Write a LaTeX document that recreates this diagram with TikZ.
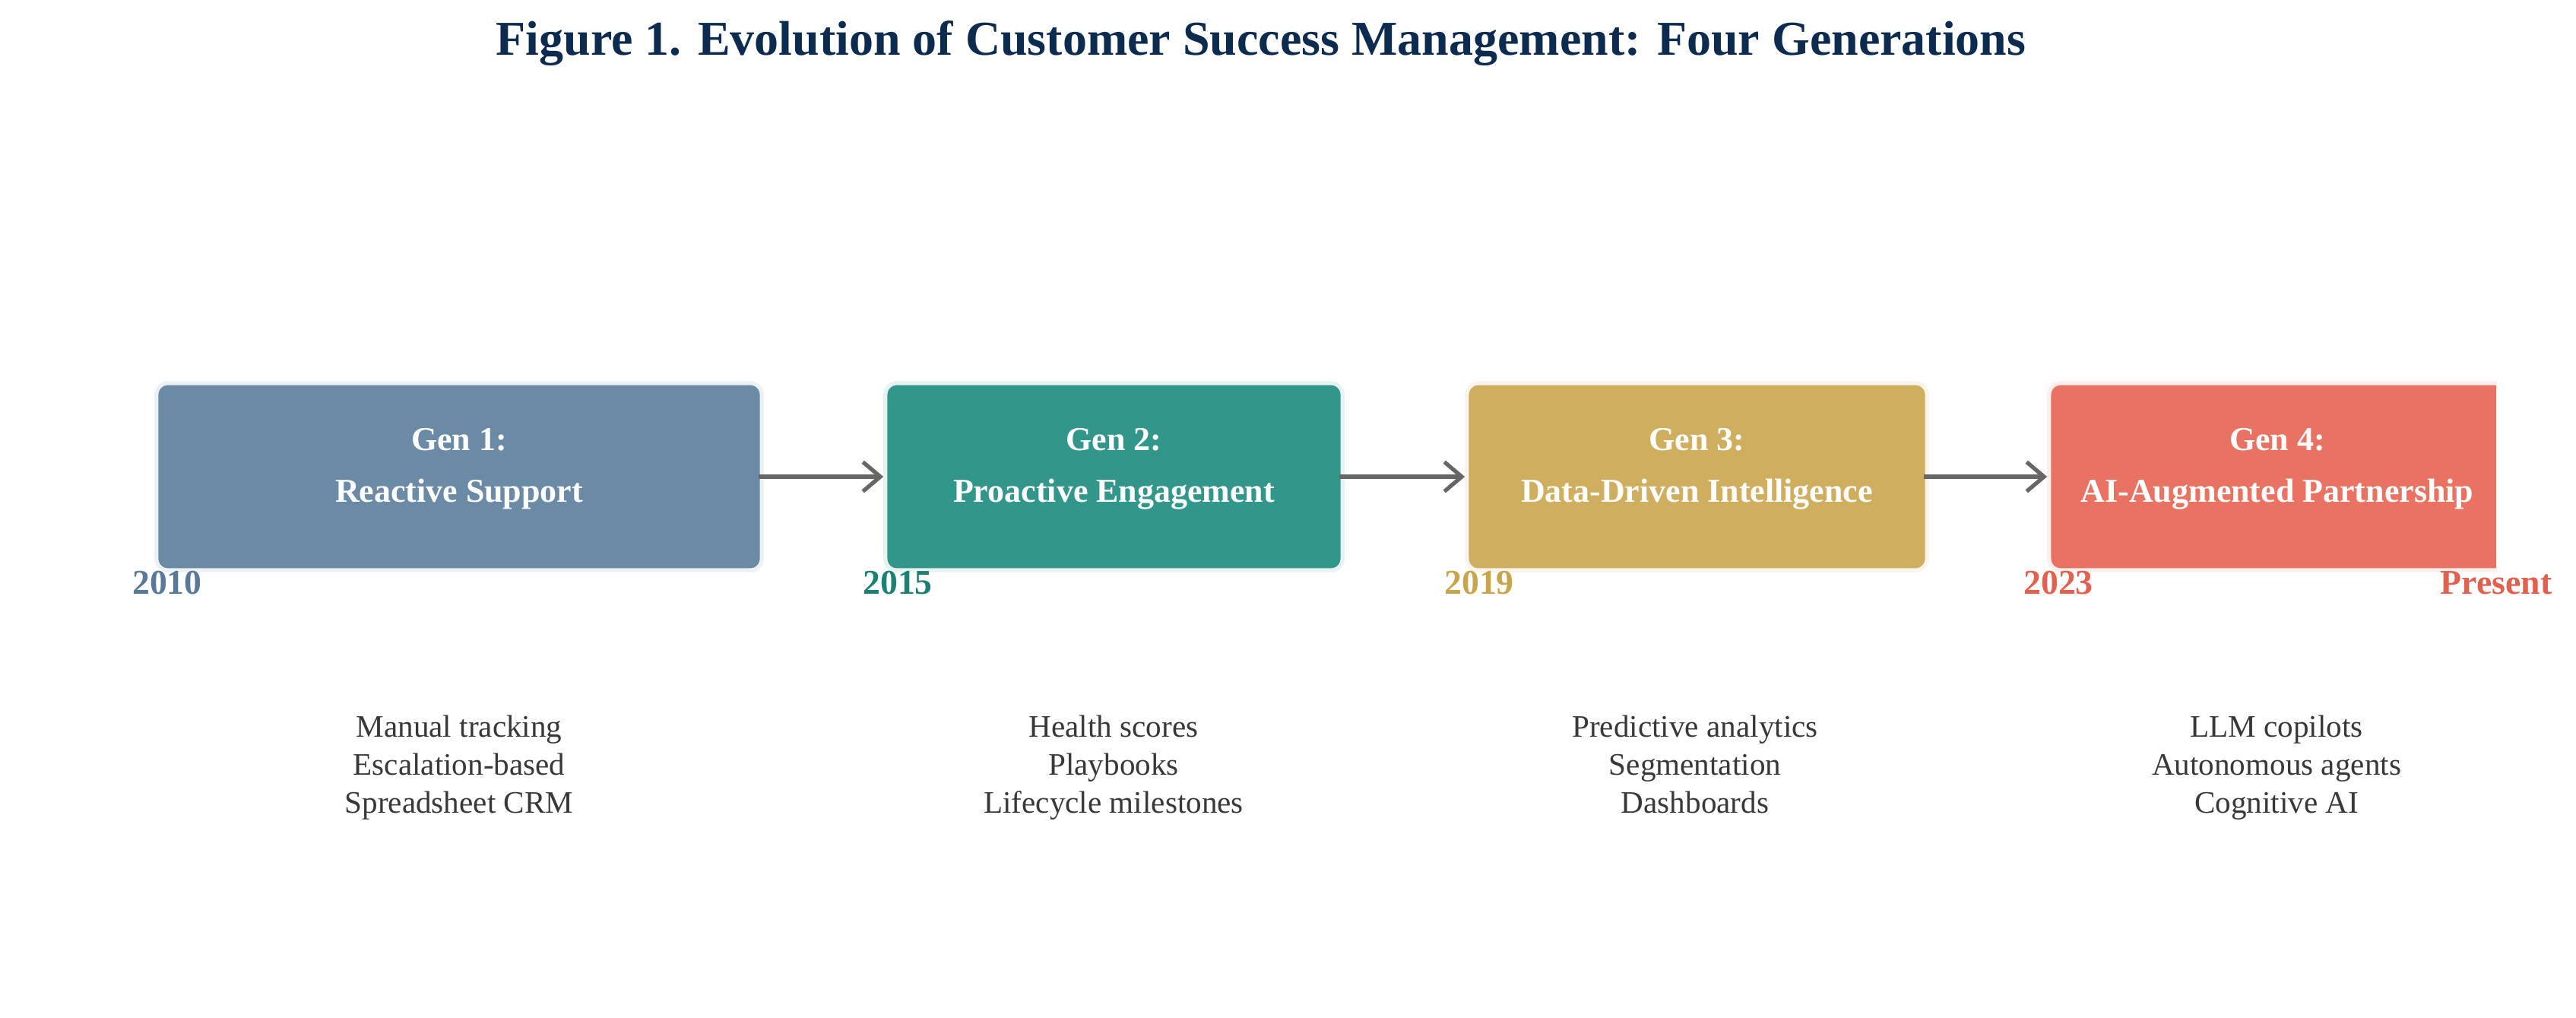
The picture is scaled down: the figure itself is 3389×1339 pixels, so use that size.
\documentclass[tikz,border=0pt]{standalone}
\usepackage{fontspec}
\setmainfont{Liberation Serif}
\usetikzlibrary{arrows.meta, positioning}
\definecolor{navy}{HTML}{0D2B4E}
\definecolor{slate}{HTML}{6B8AA6}
\definecolor{teal}{HTML}{32978A}
\definecolor{gold}{HTML}{CFAF5F}
\definecolor{coral}{HTML}{E87362}
\definecolor{slateyr}{HTML}{5A7898}
\definecolor{tealyr}{HTML}{1E8073}
\definecolor{goldyr}{HTML}{C8A54A}
\definecolor{coralyr}{HTML}{E2604E}
\definecolor{txtgray}{HTML}{383838}
\definecolor{arrgray}{HTML}{666666}
\tikzset{
  genbox/.style={rectangle, rounded corners=0.15cm, minimum height=2.46cm,
    line width=1.5pt, inner sep=0pt},
  gentext/.style={anchor=base, text=white, font=\fontsize{12.5}{15}\selectfont\bfseries},
  yearlbl/.style={anchor=base, font=\fontsize{13}{15}\selectfont\bfseries},
  bullets/.style={align=center, text depth=0pt, text=txtgray,
    font=\fontsize{11.7}{14.2}\selectfont},
  flow/.style={draw=arrgray, line width=1.5pt, -{Straight Barb[length=6.5pt,width=11pt]}}
}

\begin{document}
\begin{tikzpicture}[x=0.01cm, y=-0.01cm]
\useasboundingbox (0,0) rectangle (3389,1339);
\node[anchor=base, text=navy, font=\fontsize{18.2}{22}\selectfont\bfseries] (title) at (1659,72)
  {Figure 1. Evolution of Customer Success Management: Four Generations};
% the four generations
\node[genbox, minimum width=7.96cm, fill=slate, draw=slate!12!white] (g1) at (604,627) {};
\node[genbox, minimum width=6.01cm, fill=teal, draw=teal!12!white] (g2) at (1465.5,627) {};
\node[genbox, minimum width=6.05cm, fill=gold, draw=gold!12!white] (g3) at (2232.5,627) {};
\begin{scope}
\clip (0,0) rectangle (3284,1339);
\node[genbox, minimum width=6.0cm, fill=coral, draw=coral!12!white] (g4) at (2996,627) {};
\end{scope}
\foreach \i/\name in {1/Reactive Support, 2/Proactive Engagement,
  3/Data-Driven Intelligence, 4/AI-Augmented Partnership}{% head and name
\node[gentext] (g\i head) at ([yshift=0.34cm]g\i.center) {Gen \i:};
\node[gentext] (g\i name) at ([yshift=-0.33cm]g\i.center) {\name};}
\draw[flow] ([xshift=-0.07cm]g1.east) -- (g2);
\draw[flow] ([xshift=-0.07cm]g2.east) -- (g3);
\draw[flow] ([xshift=-0.07cm]g3.east) -- (g4);
% years along the bottom edge
\foreach \yr/\col/\xp in {2010/slateyr/220, 2015/tealyr/1181, 2019/goldyr/1946,
  2023/coralyr/2708, Present/coralyr/3284}{%
\node[yearlbl, text=\col] (yr\yr) at (\xp,781) {\yr};}
% traits of each generation
\node[bullets] (b1) at (604,1005) {Manual tracking\\Escalation-based\\Spreadsheet CRM};
\node[bullets] (b2) at (1465,1005) {Health scores\\Playbooks\\Lifecycle milestones};
\node[bullets] (b3) at (2230,1005) {Predictive analytics\\Segmentation\\Dashboards};
\node[bullets] (b4) at (2995,1005) {LLM copilots\\Autonomous agents\\Cognitive AI};
\end{tikzpicture}
\end{document}
